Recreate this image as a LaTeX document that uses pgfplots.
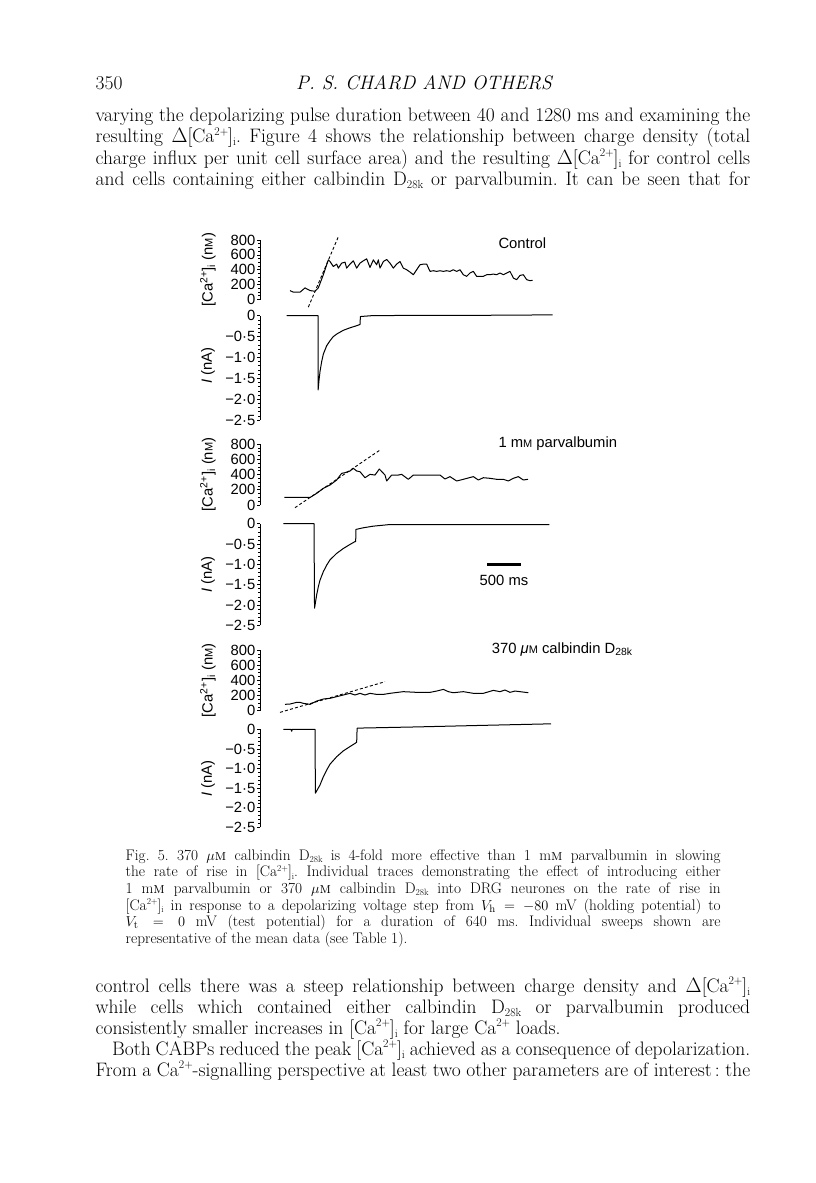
\documentclass[border=0pt]{standalone}
\usepackage{pgfplots}
\pgfplotsset{compat=1.18}
\usepackage{graphicx}
\usepackage{fontspec}
\newfontfamily\figfont{Liberation Sans}
\frenchspacing
\newcommand\bodyfont{\fontsize{19.5}{21.5}\selectfont}
\newcommand\capfont{\fontsize{15.3}{16.7}\selectfont}
\newcommand\ff{\figfont\fontsize{14.8}{16}\selectfont}
\newcommand\smM{{\fontsize{11}{10}\selectfont M}}
\newcommand\up[1]{\raisebox{0.36em}{\scalebox{0.6}{#1}}}
\newcommand\dn[1]{\raisebox{-0.16em}{\scalebox{0.6}{#1}}}
\newcommand\Ca{Ca\up{2+}}
\newcommand\Cai{[Ca\up{2+}]\dn{i}}
\pgfplotsset{
  trace/.style={black, line width=1pt, line join=round, no markers},
  dash/.style={black, line width=0.9pt, dash pattern=on 3pt off 2.2pt, no markers},
  panel/.style={scale only axis, width=340pt, anchor=south west,
    axis y line*=left, axis x line=none, clip=false,
    tick align=outside, major tick length=3pt, minor tick length=1.8pt,
    axis line style={line width=0.8pt}, every tick/.style={black, line width=0.6pt},
    yticklabel style={font=\ff, inner sep=0pt, anchor=east, xshift=-1.5pt},
    ylabel style={font=\ff, at={(axis description cs:-0.153,0.5)}, anchor=center},
  },
  ca/.style={ymin=0, ymax=800, ytick={0,200,400,600,800},
    yticklabels={0,200,400,600,800}, minor y tick num=3,
    ylabel={[Ca\textsuperscript{2+}]\textsubscript{i} (n\smM)}},
  cur/.style={ymin=-2.5, ymax=0, ytick={-2.5,-2,-1.5,-1,-0.5,0},
    yticklabels={−2·5,−2·0,−1·5,−1·0,−0·5,0}, minor y tick num=4,
    ylabel={\textit{I} (nA)}},
}
\begin{document}
\begin{tikzpicture}
\path[fill=white] (0pt,0pt) rectangle (816pt,-1183pt);
% ---------- header and top text ----------
\node[anchor=base west, inner sep=0pt] at (95.5pt,-89pt) {\bodyfont 350};
\node[anchor=base, inner sep=0pt] at (424pt,-89pt) {\bodyfont\itshape P. S. CHARD AND OTHERS};
\node[anchor=base west, inner sep=0pt] at (95.5pt,-121pt) {\bodyfont\makebox[654.5pt][s]{varying the depolarizing pulse duration between 40 and 1280 ms and examining the}};
\node[anchor=base west, inner sep=0pt] at (95.5pt,-142.5pt) {\bodyfont\makebox[654.5pt][s]{resulting $\Delta$\Cai. Figure 4 shows the relationship between charge density (total}};
\node[anchor=base west, inner sep=0pt] at (95.5pt,-164pt) {\bodyfont\makebox[654.5pt][s]{charge influx per unit cell surface area) and the resulting $\Delta$\Cai{} for control cells}};
\node[anchor=base west, inner sep=0pt] at (95.5pt,-185.5pt) {\bodyfont\makebox[654.5pt][s]{and cells containing either calbindin D\dn{28k} or parvalbumin. It can be seen that for}};
% ---------- Panel 1: Control ----------
\begin{axis}[panel, ca, at={(260pt,-299.5pt)}, height=59.5pt, xmin=-870, xmax=4230]
\addplot[trace] coordinates {(-420,120) (-370,98) (-270,98) (-195,156) (-120,120) (-45,111) (5,156) (80,333) (130,467) (155,533) (180,511) (230,444) (280,476) (305,422) (355,489) (405,502) (430,422) (480,476) (530,520) (580,422) (630,489) (680,520) (730,547) (780,431) (830,533) (880,467) (905,533) (930,422) (980,511) (1030,538) (1080,489) (1130,422) (1180,476) (1230,511) (1280,422) (1330,400) (1380,369) (1430,333) (1480,400) (1530,467) (1580,476) (1630,476) (1680,378) (1730,387) (1780,378) (1830,387) (1880,378) (1930,387) (1980,378) (2030,400) (2080,378) (2130,400) (2180,333) (2230,311) (2280,356) (2330,378) (2380,311) (2430,311) (2480,311) (2530,333) (2580,333) (2630,342) (2680,333) (2730,356) (2780,333) (2830,356) (2880,378) (2930,289) (2980,267) (3030,324) (3080,333) (3130,267) (3180,253) (3220,258)};
\addplot[dash] coordinates {(-145,-102) (305,844)};
\end{axis}
\begin{axis}[panel, cur, at={(260pt,-420pt)}, height=104.3pt, xmin=-870, xmax=4230,
  ylabel style={at={(axis description cs:-0.153,0.52)}}]
\addplot[trace] coordinates {(-470,0) (0,0) (2,-1.78) (15,-1.55) (30,-1.34) (55,-1.10) (80,-0.92) (130,-0.72) (180,-0.60) (230,-0.50) (280,-0.44) (380,-0.35) (480,-0.29) (580,-0.24) (630,-0.21) (636,-0.02) (800,0.0) (1500,0.01) (2500,0.01) (3520,0.02)};
\end{axis}
\node[anchor=base west, inner sep=0pt, font=\ff] at (498.3pt,-248.3pt) {Control};
% ---------- Panel 2: parvalbumin ----------
\begin{axis}[panel, ca, at={(260pt,-505pt)}, height=61pt, xmin=-810, xmax=4290]
\addplot[trace] coordinates {(-445,100) (-60,100) (-40,109) (40,153) (140,219) (240,262) (340,328) (415,415) (465,424) (540,446) (590,481) (640,446) (690,437) (765,358) (840,402) (915,393) (980,472) (1065,393) (1090,315) (1165,393) (1265,393) (1315,402) (1415,337) (1490,393) (1640,393) (1740,393) (1890,393) (1965,341) (2040,372) (2140,315) (2240,337) (2390,372) (2465,328) (2540,358) (2640,350) (2740,337) (2840,337) (2915,315) (2990,350) (3065,372) (3140,328) (3210,337)};
\addplot[dash] coordinates {(-285,-35) (990,721)};
\end{axis}
\begin{axis}[panel, cur, at={(260pt,-625.3pt)}, height=101.6pt, xmin=-810, xmax=4290]
\addplot[trace] coordinates {(-460,0) (0,0) (8,-2.08) (40,-1.75) (65,-1.55) (90,-1.39) (140,-1.18) (190,-1.02) (240,-0.89) (340,-0.73) (440,-0.61) (540,-0.51) (615,-0.44) (625,-0.44) (630,-0.14) (740,-0.10) (890,-0.06) (1140,-0.02) (3530,-0.02)};
\addplot[black, line width=3pt, no markers] coordinates {(2600,-1) (3100,-1)};
\end{axis}
\node[anchor=base west, inner sep=0pt, font=\ff] at (498.3pt,-447.3pt) {1 m\smM{} parvalbumin};
\node[anchor=base, inner sep=0pt, font=\ff] at (504pt,-585pt) {500 ms};
% ---------- Panel 3: calbindin ----------
\begin{axis}[panel, ca, at={(260pt,-710.7pt)}, height=60.7pt, xmin=-825, xmax=4275]
\addplot[trace] coordinates {(-450,84) (-375,88) (-275,110) (-225,110) (-175,97) (-75,84) (25,127) (125,154) (225,163) (325,185) (425,207) (525,229) (600,207) (675,229) (750,207) (825,229) (925,215) (1025,215) (1125,229) (1325,251) (1525,242) (1725,242) (1825,259) (1925,281) (2000,251) (2075,237) (2225,251) (2375,229) (2525,229) (2675,268) (2775,251) (2850,273) (2925,242) (3000,259) (3075,251) (3200,237)};
\addplot[dash] coordinates {(-525,-22) (1050,382)};
\end{axis}
\begin{axis}[panel, cur, at={(260pt,-827.3pt)}, height=98pt, xmin=-825, xmax=4275]
\addplot[trace] coordinates {(-475,0) (-360,0) (-350,-0.05) (-340,0) (0,0) (6,-1.63) (75,-1.42) (125,-1.21) (175,-1.04) (225,-0.89) (325,-0.70) (425,-0.55) (525,-0.44) (600,-0.36) (625,-0.33) (632,0.03) (1500,0.06) (2500,0.10) (3540,0.14)};
\end{axis}
\node[anchor=base west, inner sep=0pt, font=\ff] at (491.7pt,-653.3pt) {370 {\itshape μ}\smM{} calbindin D\textsubscript{28k}};
% ---------- caption ----------
\node[anchor=base west, inner sep=0pt] at (125.5pt,-860pt) {\capfont\makebox[595pt][s]{Fig. 5. 370 $\mu$\textsc{m} calbindin D\dn{28k} is 4-fold more effective than 1 m\textsc{m} parvalbumin in slowing}};
\node[anchor=base west, inner sep=0pt] at (125.5pt,-876.7pt) {\capfont\makebox[595pt][s]{the rate of rise in \Cai. Individual traces demonstrating the effect of introducing either}};
\node[anchor=base west, inner sep=0pt] at (125.5pt,-893.3pt) {\capfont\makebox[595pt][s]{1 m\textsc{m} parvalbumin or 370 $\mu$\textsc{m} calbindin D\dn{28k} into DRG neurones on the rate of rise in}};
\node[anchor=base west, inner sep=0pt] at (125.5pt,-910pt) {\capfont\makebox[595pt][s]{\Cai{} in response to a depolarizing voltage step from $V_{\mathrm{h}}=-80$ mV (holding potential) to}};
\node[anchor=base west, inner sep=0pt] at (125.5pt,-926.7pt) {\capfont\makebox[595pt][s]{$V_{\mathrm{t}}=0$ mV (test potential) for a duration of 640 ms. Individual sweeps shown are}};
\node[anchor=base west, inner sep=0pt] at (125.5pt,-943.3pt) {\capfont representative of the mean data (see Table 1).};
% ---------- bottom text ----------
\node[anchor=base west, inner sep=0pt] at (95.5pt,-992pt) {\bodyfont\makebox[654.5pt][s]{control cells there was a steep relationship between charge density and $\Delta$\Cai}};
\node[anchor=base west, inner sep=0pt] at (95.5pt,-1013pt) {\bodyfont\makebox[654.5pt][s]{while cells which contained either calbindin D\dn{28k} or parvalbumin produced}};
\node[anchor=base west, inner sep=0pt] at (95.5pt,-1034pt) {\bodyfont consistently smaller increases in \Cai{} for large \Ca{} loads.};
\node[anchor=base west, inner sep=0pt] at (112pt,-1055pt) {\bodyfont\makebox[638pt][s]{Both CABPs reduced the peak \Cai{} achieved as a consequence of depolarization.}};
\node[anchor=base west, inner sep=0pt] at (95.5pt,-1076pt) {\bodyfont\makebox[654.5pt][s]{From a \Ca-signalling perspective at least two other parameters are of interest\,: the}};
\end{tikzpicture}
\end{document}
